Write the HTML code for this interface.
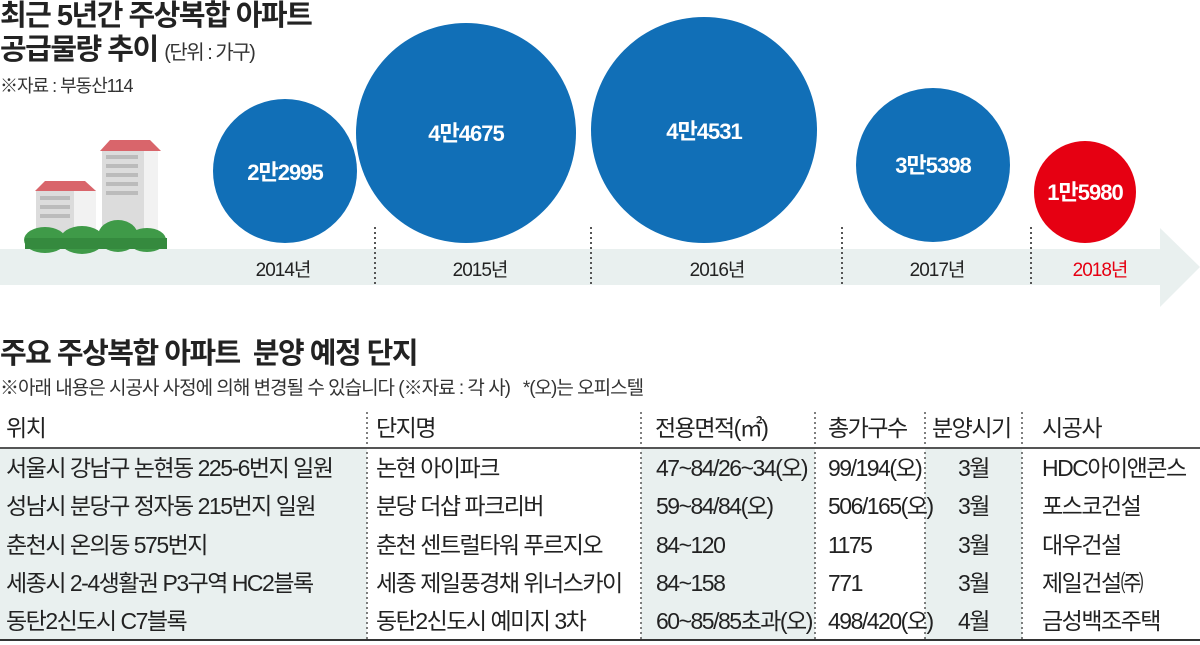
<!DOCTYPE html>
<html><head><meta charset="utf-8"><style>
body{margin:0;width:1200px;height:645px;background:#fff;overflow:hidden;position:relative;font-family:"Liberation Sans","Noto Sans CJK KR",sans-serif;color:#222}
.t{position:absolute;white-space:nowrap}
.b{font-weight:bold;font-size:29px;letter-spacing:-1.5px;color:#222;line-height:32px}
.s{font-size:18px;letter-spacing:-1px;color:#333}
.cell{position:absolute;font-size:23px;letter-spacing:-1.5px;white-space:nowrap;color:#222;line-height:26px}
</style></head><body>
<svg width="1200" height="320" style="position:absolute;left:0;top:0">
<rect x="0" y="249" width="1165" height="36" fill="#e9f0ef"/>
<polygon points="1160,228 1200,267 1160,307" fill="#e9f0ef"/>
<g stroke="#555" stroke-width="2" stroke-dasharray="2,3">
<line x1="375" y1="227" x2="375" y2="285"/><line x1="591" y1="227" x2="591" y2="285"/>
<line x1="842" y1="227" x2="842" y2="285"/><line x1="1031" y1="227" x2="1031" y2="285"/>
</g>
<circle cx="285" cy="171" r="72" fill="#116fb7"/>
<circle cx="466" cy="133" r="110" fill="#116fb7"/>
<circle cx="704" cy="130" r="113" fill="#116fb7"/>
<circle cx="933" cy="165" r="77" fill="#116fb7"/>
<circle cx="1085" cy="192" r="51" fill="#e60012"/>
<g font-family="Liberation Sans,Noto Sans CJK KR,sans-serif" font-weight="bold" font-size="22" fill="#fff" text-anchor="middle" letter-spacing="-1">
<text x="285" y="180">2만2995</text><text x="466" y="141">4만4675</text><text x="704" y="139">4만4531</text><text x="933" y="173">3만5398</text><text x="1085" y="200">1만5980</text>
</g>
<g font-family="Liberation Sans,Noto Sans CJK KR,sans-serif" font-size="19" fill="#222" text-anchor="middle" letter-spacing="-1">
<text x="283" y="276">2014년</text><text x="480" y="276">2015년</text><text x="717" y="276">2016년</text><text x="937" y="276">2017년</text><text x="1100" y="276" fill="#e60012">2018년</text>
</g>
<rect x="36" y="190" width="60" height="45" fill="#dcdcdc"/><rect x="74" y="190" width="22" height="45" fill="#f2f2f2"/>
<polygon points="35,191 45,181 85,181 96,191" fill="#d9656b"/>
<rect x="102" y="150" width="42" height="85" fill="#dcdcdc"/><rect x="144" y="150" width="14" height="85" fill="#f2f2f2"/>
<polygon points="100,151 110,140 150,140 161,151" fill="#d9656b"/>
<g fill="#bbb"><rect x="40" y="196" width="30" height="4"/><rect x="40" y="205" width="30" height="4"/><rect x="40" y="214" width="30" height="4"/><rect x="106" y="155" width="32" height="4"/><rect x="106" y="164" width="32" height="4"/><rect x="106" y="173" width="32" height="4"/><rect x="106" y="182" width="32" height="4"/><rect x="106" y="191" width="32" height="4"/></g>
<g fill="#3f9a48"><ellipse cx="45" cy="240" rx="21" ry="13"/><ellipse cx="82" cy="240" rx="22" ry="14"/><ellipse cx="118" cy="236" rx="20" ry="16"/><ellipse cx="147" cy="240" rx="19" ry="12"/></g>
<g fill="#358a3e"><rect x="25" y="238" width="142" height="11"/></g>
</svg>
<div class="t b" style="left:0;top:0px">최근 5년간 주상복합 아파트</div>
<div class="t b" style="left:0;top:34px">공급물량 추이 <span style="font-weight:normal;font-size:20px;color:#333">(단위 : 가구)</span></div>
<div class="t s" style="left:0;top:72px">※자료 : 부동산114</div>
<div class="t b" style="left:0;top:338px">주요 주상복합 아파트&nbsp; 분양 예정 단지</div>
<div class="t s" style="left:0;top:373px;font-size:19px">※아래 내용은 시공사 사정에 의해 변경될 수 있습니다 (※자료 : 각 사)&nbsp;&nbsp; *(오)는 오피스텔</div>
<div style="position:absolute;left:0;top:449px;width:367px;height:191px;background:#e9f0ef"></div>
<div style="position:absolute;left:641px;top:449px;width:174px;height:191px;background:#e9f0ef"></div>
<div style="position:absolute;left:925px;top:449px;width:97px;height:191px;background:#e9f0ef"></div>
<div style="position:absolute;left:0;top:447px;width:1200px;height:2px;background:#555"></div>
<div style="position:absolute;left:0;top:639px;width:1200px;height:2px;background:#333"></div>
<svg width="1200" height="645" style="position:absolute;left:0;top:0"><g stroke="#555" stroke-width="1.5" stroke-dasharray="2,3">
<line x1="367" y1="412" x2="367" y2="640"/><line x1="641" y1="412" x2="641" y2="640"/><line x1="815" y1="412" x2="815" y2="640"/><line x1="925" y1="412" x2="925" y2="640"/><line x1="1022" y1="412" x2="1022" y2="640"/></g></svg>
<div class="cell" style="left:6px;top:415px">위치</div>
<div class="cell" style="left:376px;top:415px">단지명</div>
<div class="cell" style="left:655px;top:415px">전용면적(㎡)</div>
<div class="cell" style="left:828px;top:415px">총가구수</div>
<div class="cell" style="left:932px;top:415px">분양시기</div>
<div class="cell" style="left:1042px;top:415px">시공사</div>

<div class="cell" style="left:6px;top:455px">서울시 강남구 논현동 225-6번지 일원</div>
<div class="cell" style="left:376px;top:455px">논현 아이파크</div>
<div class="cell" style="left:656px;top:455px">47~84/26~34(오)</div>
<div class="cell" style="left:828px;top:455px">99/194(오)</div>
<div class="cell" style="left:958px;top:455px">3월</div>
<div class="cell" style="left:1042px;top:455px">HDC아이앤콘스</div>

<div class="cell" style="left:6px;top:493px">성남시 분당구 정자동 215번지 일원</div>
<div class="cell" style="left:376px;top:493px">분당 더샵 파크리버</div>
<div class="cell" style="left:656px;top:493px">59~84/84(오)</div>
<div class="cell" style="left:828px;top:493px">506/165(오)</div>
<div class="cell" style="left:958px;top:493px">3월</div>
<div class="cell" style="left:1042px;top:493px">포스코건설</div>

<div class="cell" style="left:6px;top:532px">춘천시 온의동 575번지</div>
<div class="cell" style="left:376px;top:532px">춘천 센트럴타워 푸르지오</div>
<div class="cell" style="left:656px;top:532px">84~120</div>
<div class="cell" style="left:828px;top:532px">1175</div>
<div class="cell" style="left:958px;top:532px">3월</div>
<div class="cell" style="left:1042px;top:532px">대우건설</div>

<div class="cell" style="left:6px;top:570px">세종시 2-4생활권 P3구역 HC2블록</div>
<div class="cell" style="left:376px;top:570px">세종 제일풍경채 위너스카이</div>
<div class="cell" style="left:656px;top:570px">84~158</div>
<div class="cell" style="left:828px;top:570px">771</div>
<div class="cell" style="left:958px;top:570px">3월</div>
<div class="cell" style="left:1042px;top:570px">제일건설㈜</div>

<div class="cell" style="left:6px;top:608px">동탄2신도시 C7블록</div>
<div class="cell" style="left:376px;top:608px">동탄2신도시 예미지 3차</div>
<div class="cell" style="left:656px;top:608px">60~85/85초과(오)</div>
<div class="cell" style="left:828px;top:608px">498/420(오)</div>
<div class="cell" style="left:958px;top:608px">4월</div>
<div class="cell" style="left:1042px;top:608px">금성백조주택</div>
</body></html>
